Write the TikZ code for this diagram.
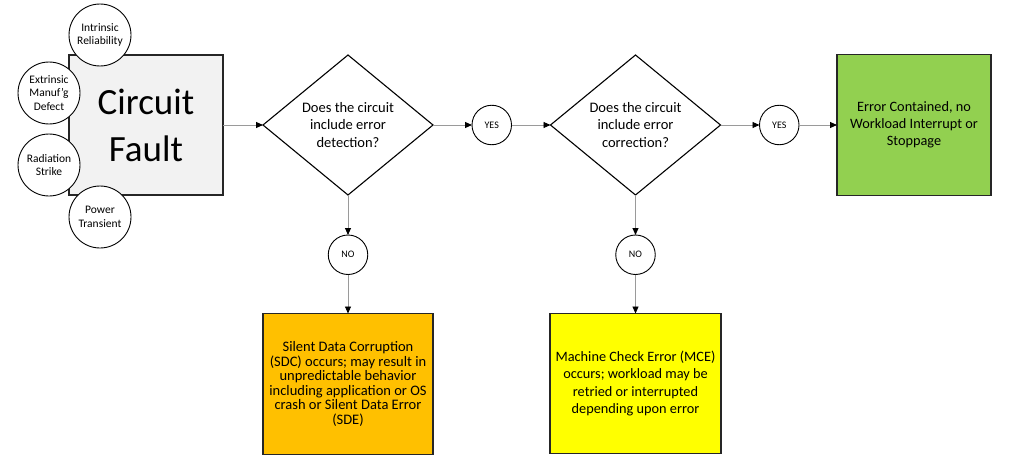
\documentclass[tikz,border=0pt]{standalone}
\usepackage{fontspec}
\setmainfont{Carlito}
\usepackage{tikz}
\usetikzlibrary{positioning}
\usetikzlibrary{shapes.geometric}
\usetikzlibrary{arrows.meta}

\definecolor{faultgray}{HTML}{F2F2F2}
\definecolor{okgreen}{HTML}{92D050}
\definecolor{sdcorange}{HTML}{FFC000}
\definecolor{mceyellow}{HTML}{FFFF00}
\definecolor{linkgray}{HTML}{9A9A9A}

\begin{document}
\begin{tikzpicture}[x=1pt, y=-1pt, every node/.style={outer sep=0pt},
    box/.style={draw=black!85, line width=1.1pt, align=center, inner sep=0pt},
    cause/.style={circle, draw, fill=white, line width=0.9pt, minimum size=62pt, inner sep=0pt, align=center, font=\fontsize{11.5}{13.5}\selectfont},
    query/.style={diamond, draw, line width=1.1pt, minimum width=170pt, minimum height=140pt, aspect=1.21, inner sep=0pt, align=center, font=\fontsize{14.5}{17.3}\selectfont},
    answer/.style={circle, draw, line width=0.9pt, minimum size=39.5pt, inner sep=0pt, font=\fontsize{10}{12}\selectfont},
    link/.style={draw=linkgray, line width=0.9pt, -{Triangle[color=black, fill=black, length=7pt, width=6pt]}}
]
    \useasboundingbox (0,0) rectangle (1020,460);

    % fault and its causes
    \node[box, fill=faultgray, minimum width=154pt, minimum height=140pt, font=\fontsize{37}{47}\selectfont] (fault) at (146,125) {Circuit\\Fault};

    \node[cause] (intrinsic) at (100,35) {Intrinsic\\Reliability};
    \node[cause] (extrinsic) at (49,93) {Extrinsic\\Manuf'g\\Defect};
    \node[cause] (radiation) at (49,165) {Radiation\\Strike};
    \node[cause] (power) at (100,217) {Power\\Transient};

    % decisions
    \node[query, right=40pt of fault] (detect) {Does the circuit\\include error\\detection?};
    \node[answer, right=39pt of detect] (yes1) {YES};
    \node[query, right=39pt of yes1] (correct) {Does the circuit\\include error\\correction?};
    \node[answer, right=39pt of correct] (yes2) {YES};

    \node[answer, below=40pt of detect] (no1) {NO};
    \node[answer, below=40pt of correct] (no2) {NO};

    % outcomes
    \node[box, fill=okgreen, minimum width=154pt, minimum height=141pt, font=\fontsize{14.3}{17}\selectfont, right=38pt of yes2] (contained) {Error Contained, no\\Workload Interrupt or\\Stoppage};
    \node[box, fill=sdcorange, minimum width=170pt, minimum height=141pt, font=\fontsize{14.5}{14.5}\selectfont, below=39pt of no1] (sdc) {Silent Data Corruption\\(SDC) occurs; may result in\\unpredictable behavior\\including application or OS\\crash or Silent Data Error\\(SDE)};
    \node[box, fill=mceyellow, minimum width=171pt, minimum height=140pt, font=\fontsize{14.3}{17.3}\selectfont, below=39pt of no2] (mce) {Machine Check Error (MCE)\\occurs; workload may be\\retried or interrupted\\depending upon error};

    \draw[link] (fault) -- (detect);
    \draw[link] (detect) -- (yes1);
    \draw[link] (yes1) -- (correct);
    \draw[link] (correct) -- (yes2);
    \draw[link] (yes2) -- (contained);
    \draw[link] (detect) -- (no1);
    \draw[link] (no1) -- (sdc);
    \draw[link] (correct) -- (no2);
    \draw[link] (no2) -- (mce);
\end{tikzpicture}
\end{document}
